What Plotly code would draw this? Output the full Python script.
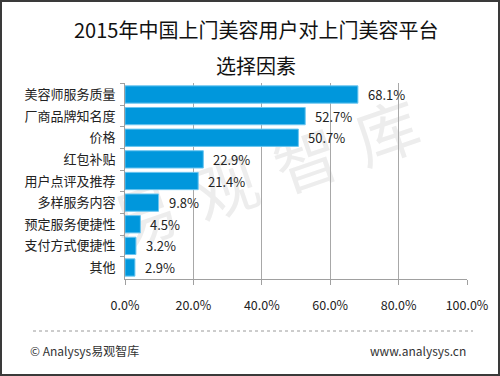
import plotly.graph_objects as go

categories = ["美容师服务质量", "厂商品牌知名度", "价格", "红包补贴", "用户点评及推荐",
              "多样服务内容", "预定服务便捷性", "支付方式便捷性", "其他"]
values = [68.1, 52.7, 50.7, 22.9, 21.4, 9.8, 4.5, 3.2, 2.9]
tick_vals = [0, 20, 40, 60, 80, 100]
tick_text = ["0.0%", "20.0%", "40.0%", "60.0%", "80.0%", "100.0%"]
title_lines = ["2015年中国上门美容用户对上门美容平台", "选择因素"]
footer_left = "© Analysys易观智库"
footer_right = "www.analysys.cn"
watermark = "易\u2004观\u2004智\u2004库"

W, H = 500, 376
L, R, T, B = 125, 33, 83, 97
PW, PH = W - L - R, H - T - B
FONT = "Noto Sans CJK SC"


def xp(px):
    return (px - L) / PW


def yp(py):
    return (H - B - py) / PH


fig = go.Figure()
fig.add_trace(go.Bar(
    x=values, y=categories, orientation="h",
    marker=dict(color="#0097DC", line=dict(color="#6CC6F0", width=1)),
    hoverinfo="skip",
))

annotations = []
for c, v in zip(categories, values):
    annotations.append(dict(x=v, y=c, xref="x", yref="y", text=f"{v:.1f}%",
                            showarrow=False, xanchor="left", xshift=8,
                            yanchor="middle",
                            font=dict(family=FONT, size=13, color="#222222")))

annotations.append(dict(x=xp(256), y=yp(30), xref="paper", yref="paper",
                        text=title_lines[0], showarrow=False,
                        xanchor="center", yanchor="middle",
                        font=dict(family=FONT, size=20, color="#111111")))
annotations.append(dict(x=xp(256), y=yp(65), xref="paper", yref="paper",
                        text=title_lines[1], showarrow=False,
                        xanchor="center", yanchor="middle",
                        font=dict(family=FONT, size=20, color="#111111")))
annotations.append(dict(x=xp(28), y=yp(350), xref="paper", yref="paper",
                        text=footer_left, showarrow=False, xanchor="left",
                        yanchor="middle",
                        font=dict(family=FONT, size=12, color="#333333")))
annotations.append(dict(x=xp(468), y=yp(350), xref="paper", yref="paper",
                        text=footer_right, showarrow=False, xanchor="right",
                        yanchor="middle",
                        font=dict(family=FONT, size=12, color="#333333")))

shapes = [
    # watermark
    dict(type="rect", xref="paper", yref="paper",
         x0=xp(138), x1=xp(398), y0=yp(200), y1=yp(160),
         line=dict(width=0), fillcolor="rgba(0,0,0,0)", layer="below",
         label=dict(text=watermark, textangle=-19,
                    font=dict(family=FONT, size=64, color="#ededed"))),
    # dotted separator
    dict(type="line", xref="paper", yref="paper",
         x0=xp(33), x1=xp(473), y0=yp(331), y1=yp(331),
         line=dict(color="#9a9a9a", width=1, dash="dot")),
    # outer frame
    dict(type="rect", xref="paper", yref="paper",
         x0=xp(1), x1=xp(499), y0=yp(1), y1=yp(375),
         line=dict(color="#3a3a3a", width=2)),
]

fig.update_layout(
    width=W, height=H,
    margin=dict(l=L, r=R, t=T, b=B, pad=0, autoexpand=False),
    paper_bgcolor="white", plot_bgcolor="white",
    showlegend=False, bargap=0.2,
    annotations=annotations, shapes=shapes,
    font=dict(family=FONT, size=13, color="#222222"),
    xaxis=dict(range=[0, 100], tickvals=tick_vals, ticktext=tick_text,
               automargin=False,
               showgrid=True, gridcolor="#a8a8a8", gridwidth=1,
               zeroline=False, showline=True, linecolor="#a0a0a0",
               ticks="outside", ticklen=5, tickcolor="#a0a0a0",
               ticklabelstandoff=10,
               tickfont=dict(family=FONT, size=12.5, color="#222222"),
               fixedrange=True),
    yaxis=dict(autorange="reversed", tickson="boundaries", automargin=False,
               ticks="outside", ticklen=4, tickcolor="#a0a0a0",
               showline=True, linecolor="#a0a0a0", showgrid=False,
               ticklabelstandoff=6,
               tickfont=dict(family=FONT, size=13, color="#222222"),
               fixedrange=True),
)

fig.write_html("out.html", config={"displayModeBar": False},
               post_script="document.body.style.margin='0';document.body.style.overflow='hidden';")
